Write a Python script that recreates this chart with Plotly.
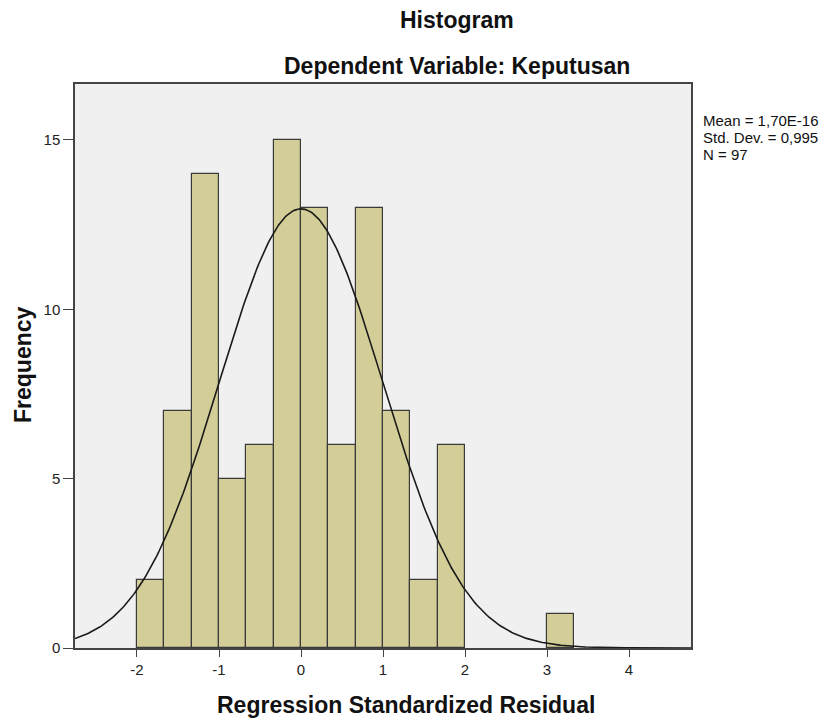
import numpy as np
import plotly.graph_objects as go

# Histogram data
bin_start = -2.0
bin_width = 1.0 / 3.0
counts = [2, 7, 14, 5, 6, 15, 13, 6, 13, 7, 2, 6, 0, 0, 0, 1]

# Summary statistics shown in the chart
mean = 1.70e-16
std_dev = 0.995
n_obs = 97
stats_lines = ["Mean = 1,70E-16", "Std. Dev. = 0,995", "N = 97"]

x_ticks = [-2, -1, 0, 1, 2, 3, 4]
y_ticks = [0, 5, 10, 15]

centers = [bin_start + (i + 0.5) * bin_width for i in range(len(counts))]
bx = [c for c, k in zip(centers, counts) if k > 0]
by = [k for k in counts if k > 0]

x_range = [-2.756, 4.756]
y_range = [0, 16.65]

xs = np.linspace(x_range[0], x_range[1], 400)
ys = n_obs * bin_width / (std_dev * np.sqrt(2 * np.pi)) * np.exp(-0.5 * ((xs - mean) / std_dev) ** 2)

font = "Liberation Sans, Arial, sans-serif"
OFF = 8  # page body margin
W, H = 830 - OFF, 720 - OFF
# plot area in window pixels: x 75..691, y 84..648
L, T = 75 - OFF, 84 - OFF
R = W - (691 - OFF)
B = H - (648 - OFF)
PW, PH = W - L - R, H - T - B


def px(x):
    return (x - OFF - L) / PW


def py(y):
    return (H - B - (y - OFF)) / PH


fig = go.Figure()
fig.add_trace(go.Bar(
    x=bx, y=by, width=bin_width,
    marker=dict(color="#D3CE97", line=dict(color="#3a3a3a", width=1.2)),
    hoverinfo="x+y", showlegend=False,
))
fig.add_trace(go.Scatter(
    x=xs, y=ys, mode="lines",
    line=dict(color="#1a1a1a", width=1.6),
    hoverinfo="skip", showlegend=False,
))

title_font = dict(size=23, color="#111111", family=font)
annotations = [
    dict(text="<b>Histogram</b>", x=px(457), y=py(20), xanchor="center", yanchor="middle", font=title_font),
    dict(text="<b>Dependent Variable: Keputusan</b>", x=px(457), y=py(66), xanchor="center", yanchor="middle", font=title_font),
    dict(text="<b>Regression Standardized Residual</b>", x=px(406), y=py(705), xanchor="center", yanchor="middle", font=title_font),
    dict(text="<b>Frequency</b>", x=px(23), y=py(365), xanchor="center", yanchor="middle", textangle=-90, font=title_font),
]
for i, s in enumerate(stats_lines):
    annotations.append(dict(text=s, x=px(701), y=py(121 + i * 16.5), xanchor="left", yanchor="middle",
                            font=dict(size=15, color="#111111", family=font)))
for a in annotations:
    a.update(xref="paper", yref="paper", showarrow=False)

fig.update_layout(
    width=W, height=H,
    margin=dict(l=L, r=R, t=T, b=B),
    paper_bgcolor="white",
    plot_bgcolor="#F0F0F0",
    font=dict(family=font, color="#222222", size=15),
    bargap=0,
    xaxis=dict(
        range=x_range, tickvals=x_ticks, ticktext=[str(v) for v in x_ticks],
        showgrid=False, zeroline=False, automargin=False,
        showline=True, linecolor="#444444", linewidth=1.5, mirror=True,
        ticks="outside", ticklen=7, tickwidth=1.2, tickcolor="#444444",
        tickfont=dict(size=15, color="#222222"),
    ),
    yaxis=dict(
        range=y_range, tickvals=y_ticks, ticktext=[str(v) for v in y_ticks],
        showgrid=False, zeroline=False, automargin=False,
        showline=True, linecolor="#444444", linewidth=1.5, mirror=True,
        ticks="outside", ticklen=10, tickwidth=1.2, tickcolor="#444444",
        tickfont=dict(size=15, color="#222222"),
    ),
    annotations=annotations,
)

fig.write_html("out.html")
